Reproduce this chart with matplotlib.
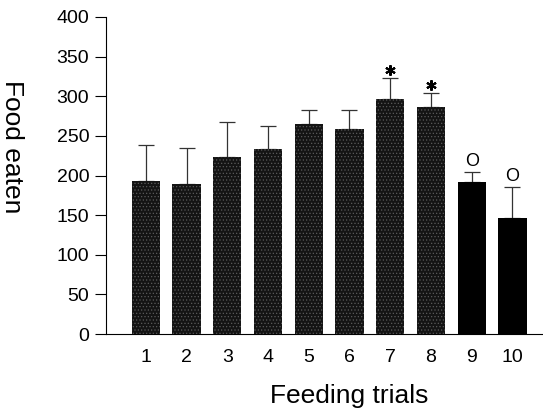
import numpy as np
import matplotlib.pyplot as plt

plt.rcParams['font.family'] = ['Liberation Sans', 'DejaVu Sans']
plt.rcParams['hatch.linewidth'] = 0.5

# data
trials = [1, 2, 3, 4, 5, 6, 7, 8, 9, 10]
food = [193, 189, 223, 234, 265, 259, 297, 287, 192, 147]
err = [46, 46, 45, 29, 18, 24, 26, 17, 12, 38]
marks = ['', '', '', '', '', '', '*', '*', 'o', 'o']

fig = plt.figure(figsize=(5.43, 4.12), dpi=100)
ax = fig.add_axes([0.195, 0.189, 0.805, 0.77])

x = np.array(trials)
face = ['#141414'] * 8 + ['#000000'] * 2
hatch = ['.....'] * 8 + [''] * 2
for i in range(len(x)):
    ax.bar(x[i], food[i], width=0.69, color=face[i], edgecolor='#5a5a5a',
           hatch=hatch[i], linewidth=0, zorder=2)
ax.errorbar(x, food, yerr=[np.zeros(len(err)), err], fmt='none',
            ecolor='#333333', elinewidth=0.9, capsize=6, capthick=0.9, zorder=1)

for i in range(len(x)):
    top = food[i] + err[i]
    if marks[i] == '*':
        ax.plot(x[i], top + 10, marker=(6, 2, 0), ms=7.5, mec='black', mew=1.5,
                ls='none')
    elif marks[i] == 'o':
        ax.text(x[i], top + 14, 'O', ha='center', va='center', fontsize=13)

ax.set_xlim(0.02, 10.75)
ax.set_ylim(0, 400)
ax.set_yticks(np.arange(0, 401, 50))
ax.set_xticks(x)
ax.tick_params(axis='x', length=0, pad=11, labelsize=14)
ax.tick_params(axis='y', direction='out', length=8, width=0.8, pad=4, labelsize=14)

for s in ['top', 'right']:
    ax.spines[s].set_visible(False)
ax.spines['left'].set_linewidth(0.8)
ax.spines['bottom'].set_linewidth(0.8)

ax.set_xlabel('Feeding trials', fontsize=19)
ax.xaxis.set_label_coords(0.557, -0.158)
ax.set_ylabel('Food eaten', fontsize=19, rotation=270, va='center')
ax.yaxis.set_label_coords(-0.215, 0.59)

plt.savefig('out.png', dpi=100)
